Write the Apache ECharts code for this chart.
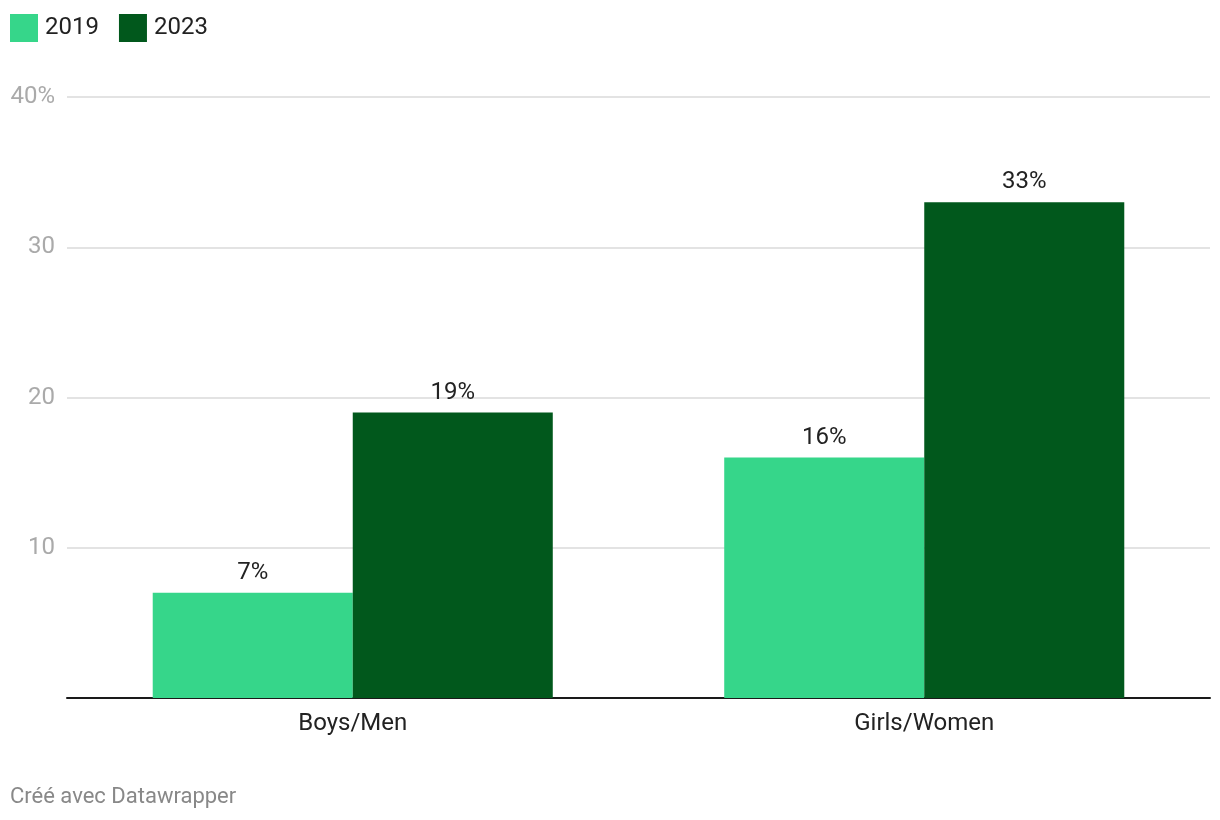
<!DOCTYPE html>
<html><head><meta charset="utf-8">
<script src="https://cdn.jsdelivr.net/npm/echarts@6/dist/echarts.min.js"></script>
<style>html,body{margin:0;padding:0;background:#fff}#c{width:1220px;height:820px}</style>
</head><body><div id="c"></div>
<script>
const categories = ['Boys/Men', 'Girls/Women'];
const seriesNames = ['2019', '2023'];
const values2019 = [7, 16];
const values2023 = [19, 33];
const yTicks = [0, 10, 20, 30, 40];
const colors = ['#36d68a', '#01581c'];

const chart = echarts.init(document.getElementById('c'), null, {renderer: 'canvas'});
const font = 'Roboto, sans-serif';
chart.setOption({
  animation: false,
  textStyle: {fontFamily: font},
  legend: {
    left: 10, top: 14, padding: 0, itemWidth: 28, itemHeight: 28, itemGap: 20,
    icon: 'rect',
    textStyle: {fontSize: 24, color: '#222', fontFamily: font, padding: [0, 0, 0, 2]},
    data: seriesNames
  },
  graphic: [{
    type: 'text', left: 10, top: 786,
    style: {text: 'Créé avec Datawrapper', fill: '#888', fontSize: 22, fontFamily: font}
  }],
  grid: {left: 67, right: 10, top: 97, bottom: 122, containLabel: false},
  xAxis: {
    type: 'category', data: categories,
    axisLine: {lineStyle: {color: '#1a1a1a', width: 2}},
    axisTick: {show: false},
    axisLabel: {fontSize: 24, color: '#222', margin: 14, fontFamily: font}
  },
  yAxis: {
    type: 'value', min: yTicks[0], max: yTicks[yTicks.length - 1], interval: 10,
    axisLine: {show: false}, axisTick: {show: false},
    splitLine: {lineStyle: {color: '#e3e3e3', width: 2}},
    axisLabel: {
      fontSize: 24, color: '#aaa', margin: 12, fontFamily: font, padding: [4, 0, 0, 0],
      formatter: v => v === 0 ? '' : (v === yTicks[yTicks.length - 1] ? v + '%' : String(v))
    }
  },
  series: [
    {name: seriesNames[0], type: 'bar', data: values2019, barGap: '0%', barCategoryGap: '30%',
     itemStyle: {color: colors[0]},
     label: {show: true, position: 'top', distance: 8, formatter: '{c}%', fontSize: 24, color: '#222', fontFamily: font}},
    {name: seriesNames[1], type: 'bar', data: values2023, barGap: '0%', barCategoryGap: '30%',
     itemStyle: {color: colors[1]},
     label: {show: true, position: 'top', distance: 8, formatter: '{c}%', fontSize: 24, color: '#222', fontFamily: font}}
  ]
});
</script></body></html>
